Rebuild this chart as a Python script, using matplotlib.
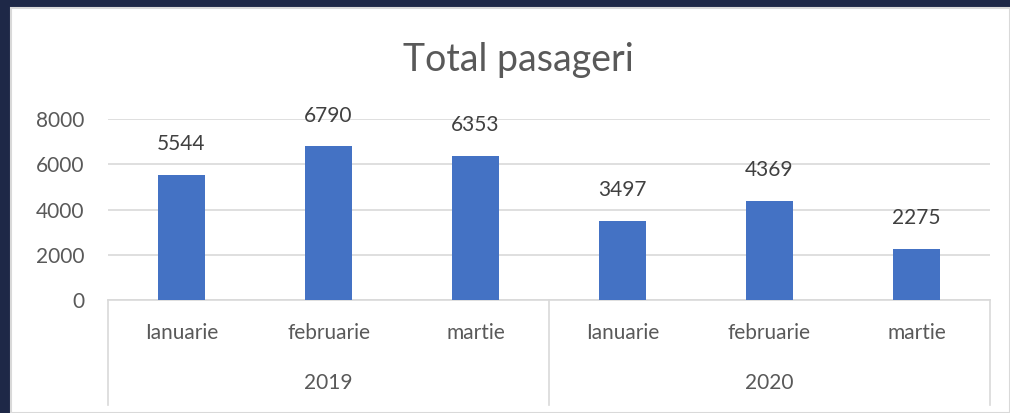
import matplotlib
matplotlib.use("Agg")
from matplotlib import pyplot as plt
from matplotlib.patches import Rectangle

plt.rcParams['font.family'] = ['Lato', 'DejaVu Sans']

months = ['Ianuarie', 'februarie', 'martie', 'Ianuarie', 'februarie', 'martie']
years = ['2019', '2020']
passengers = [5544, 6790, 6353, 3497, 4369, 2275]
y_ticks = [0, 2000, 4000, 6000, 8000]

W, H = 1010, 413
fig = plt.figure(figsize=(W / 100, H / 100), dpi=100)
fig.patch.set_facecolor('#1e2847')
# white chart area with light border
fig.patches.append(Rectangle((11 / W, 0), 1 - 11 / W, 1 - 8 / H, transform=fig.transFigure,
                             facecolor='white', edgecolor='#d9d9d9', linewidth=1.5, zorder=-5))

ax = fig.add_axes([108 / W, 1 - 300 / H, (990 - 108) / W, (300 - 119) / H])
ax.patch.set_visible(False)

x = list(range(len(passengers)))
bars = ax.bar(x, passengers, width=0.32, color='#4472c4', zorder=3)
for xi, v in zip(x, passengers):
    ax.annotate(str(v), (xi, v), xytext=(0, 15), textcoords='offset points',
                ha='center', va='bottom', fontsize=15, color='#404040')

ax.set_xlim(-0.5, len(passengers) - 0.5)
ax.set_ylim(0, 8000)
ax.set_yticks(y_ticks)
ax.set_yticklabels([str(t) for t in y_ticks])
ax.tick_params(axis='y', length=0, pad=17, labelsize=15, labelcolor='#595959')
ax.set_xticks([])
ax.grid(axis='y', color='#d9d9d9', linewidth=1.2, zorder=0)
for s in ['top', 'right', 'left']:
    ax.spines[s].set_visible(False)
ax.spines['bottom'].set_color('#d9d9d9')
ax.spines['bottom'].set_linewidth(1.2)

# two-level category axis
axis_h = (300 - 119)
def yfrac(py):
    return (300 - py) / axis_h

for xi, m in zip(x, months):
    ax.text(xi, yfrac(333), m, transform=ax.get_xaxis_transform(), ha='center', va='center',
            fontsize=15, color='#595959')
for i, yr in enumerate(years):
    ax.text(0.25 + 0.5 * i, yfrac(383), yr, transform=ax.transAxes, ha='center', va='center',
            fontsize=15, color='#595959')
for xf in [0, 0.5, 1]:
    ax.plot([xf, xf], [0, yfrac(405)], transform=ax.transAxes, color='#d9d9d9',
            linewidth=1.2, clip_on=False)

fig.text(518 / W, 1 - 60 / H, 'Total pasageri', ha='center', va='center',
         fontsize=27, color='#595959')

fig.savefig('out.png', dpi=100, facecolor=fig.get_facecolor())
